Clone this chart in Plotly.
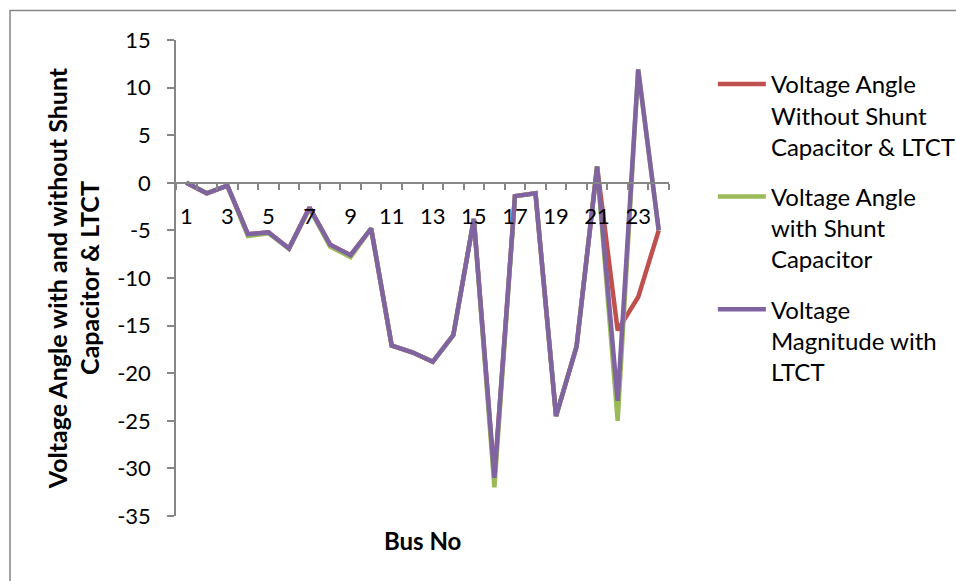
import plotly.graph_objects as go

buses = list(range(1, 25))
angle_without = [0, -1.1, -0.3, -5.4, -5.2, -6.9, -2.6, -6.5, -7.6, -4.8, -17.1, -17.8,
                 -18.8, -16.0, -3.8, -31.0, -1.4, -1.1, -24.5, -17.2, 1.7, -15.5, -12.0, -5.0]
angle_shunt = [0, -1.1, -0.3, -5.6, -5.3, -6.9, -2.7, -6.7, -7.8, -4.8, -17.1, -17.8,
               -18.8, -16.0, -3.8, -32.0, -1.4, -1.1, -24.5, -17.2, 1.7, -25.0, 11.9, -5.0]
angle_ltct = [0, -1.1, -0.3, -5.4, -5.2, -6.9, -2.6, -6.5, -7.6, -4.8, -17.1, -17.8,
              -18.8, -16.0, -3.8, -31.0, -1.4, -1.1, -24.5, -17.2, 1.7, -22.9, 11.9, -5.0]
names = ["Voltage Angle<br>Without Shunt<br>Capacitor & LTCT",
         "Voltage Angle<br>with Shunt<br>Capacitor",
         "Voltage<br>Magnitude with<br>LTCT"]
colors = ["#C0504D", "#9BBB59", "#8064A2"]
x_labels = [1, 3, 5, 7, 9, 11, 13, 15, 17, 19, 21, 23]
y_ticks = [15, 10, 5, 0, -5, -10, -15, -20, -25, -30, -35]
y_ticktext = ["15", "10", "5", "0", "-5", "-10", "-15", "-20", "-25", "-30", "-35"]

FONT = "Lato"
W, H = 956, 581
L, R, T, B = 176, 669, 40, 516
ymin, ymax = -35, 15

fig = go.Figure()
for i, (ys, nm, c) in enumerate(zip([angle_without, angle_shunt, angle_ltct], names, colors)):
    fig.add_trace(go.Scatter(x=buses, y=ys, mode="lines", name=nm, legendgroup=f"g{i}",
                             line=dict(color=c, width=4.5)))

zero_pos = (0 - ymin) / (ymax - ymin)

fig.update_layout(
    width=W, height=H,
    margin=dict(l=L, r=W - R, t=T, b=H - B, pad=0, autoexpand=False),
    paper_bgcolor="white", plot_bgcolor="white",
    font=dict(family=FONT, size=22, color="black"),
    xaxis=dict(range=[0.5, 24.5], tickvals=x_labels, ticktext=[str(v) for v in x_labels],
               ticks="", showgrid=False, zeroline=False, showline=True,
               linecolor="#868686", linewidth=1.5, anchor="free", position=zero_pos,
               ticklabelstandoff=14,
               minor=dict(tickvals=[i + 0.5 for i in range(0, 25)], ticks="outside",
                          ticklen=6, tickcolor="#868686", tickwidth=1.5, showgrid=False)),
    yaxis=dict(range=[ymin, ymax], tickvals=y_ticks, ticktext=y_ticktext, ticks="outside",
               ticklen=7, tickcolor="#868686", tickwidth=1.5, showgrid=False, zeroline=False,
               showline=True, linecolor="#868686", linewidth=1.5, ticklabelstandoff=12,
               title=dict(text="<b>Voltage Angle with and without Shunt<br>Capacitor & LTCT</b>",
                          font=dict(family=FONT, size=25), standoff=10)),
    legend=dict(x=1.089, xanchor="left", y=0.954, yanchor="top", valign="top",
                font=dict(family=FONT, size=24), bgcolor="rgba(0,0,0,0)",
                tracegroupgap=16, itemwidth=48),
    showlegend=True,
)

fig.add_annotation(text="<b>Bus No</b>", xref="paper", yref="paper",
                   x=0.5, y=(B - 540) / (B - T), showarrow=False,
                   font=dict(family=FONT, size=24), xanchor="center", yanchor="middle")

fig.add_shape(type="rect", xref="paper", yref="paper",
              x0=(10 - L) / (R - L), x1=(W + 60 - L) / (R - L),
              y0=(B - (H + 60)) / (B - T), y1=(B - 10.5) / (B - T),
              line=dict(color="#868686", width=1.5), fillcolor="rgba(0,0,0,0)", layer="below")

fig.write_html("out.html", config={"displayModeBar": False},
               post_script="document.body.style.margin='0';document.body.style.overflow='hidden';")
